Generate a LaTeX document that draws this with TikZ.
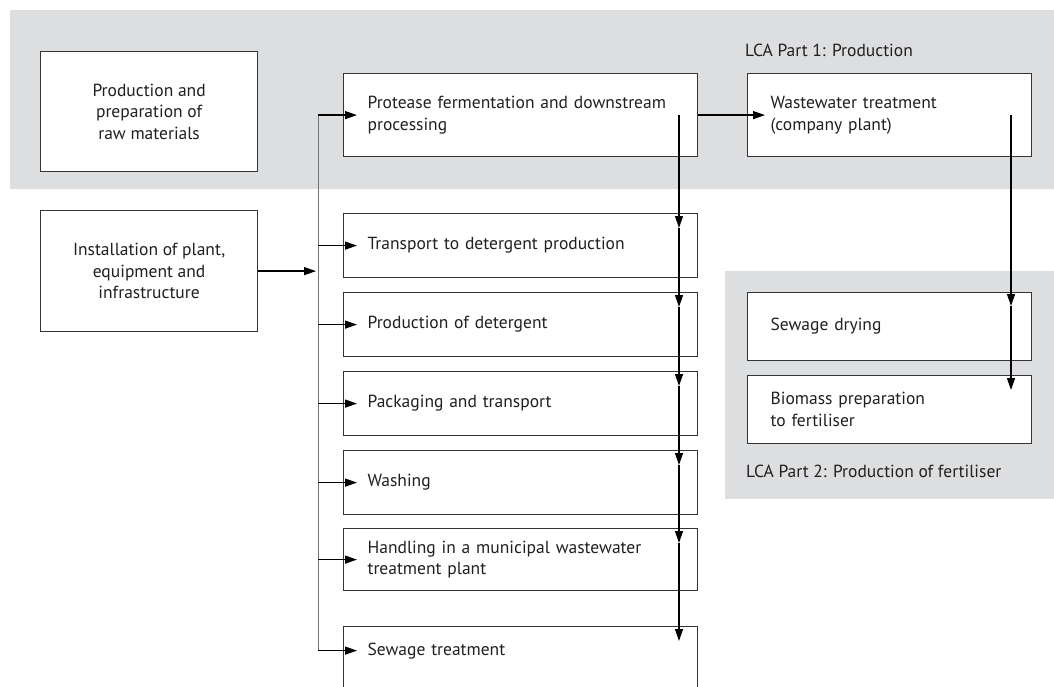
\documentclass[tikz,border=0pt]{standalone}
\usepackage{fontspec}
\setmainfont{PT Sans}
\usetikzlibrary{arrows.meta, positioning, calc}
\definecolor{lcagray}{RGB}{221, 222, 224}
\definecolor{boxline}{RGB}{52, 52, 54}
\definecolor{inktext}{RGB}{35, 31, 32}

\begin{document}
\begin{tikzpicture}[x=1pt, y=-1pt,
  every node/.style={text=inktext, font=\fontsize{17.5}{21.5}\selectfont},
  lcaband/.style={fill=lcagray, draw=none},
  sidebox/.style={draw=boxline, line width=1.2pt, fill=white, anchor=north west,
    minimum width=217pt, align=center, inner sep=0pt},
  stagebox/.style={draw=boxline, line width=1.2pt, fill=white, anchor=north west,
    minimum width=354pt, text width=306pt, inner xsep=24pt, inner ysep=0pt, align=left},
  fertbox/.style={draw=boxline, line width=1.2pt, fill=white, anchor=north west,
    minimum width=284pt, text width=238pt, inner xsep=23pt, inner ysep=0pt, align=left},
  partlabel/.style={anchor=west, inner sep=0pt},
  flow/.style={-{Triangle[length=12pt, width=8pt]}, line width=1.3pt, draw=black},
  busline/.style={line width=1pt, draw=black!55}]
  \useasboundingbox (0,0) rectangle (1054,686);
  \clip (0,0) rectangle (1054,686);

  \fill[lcaband] (10,10) rectangle (1054,189);
  \fill[lcaband] (725,271) rectangle (1054,499);

  \node[sidebox, minimum height=120pt] (raw) at (40,51) {Production and\\preparation of\\raw materials};
  \node[sidebox, minimum height=121pt] (install) at (40,210) {Installation of plant,\\equipment and\\infrastructure};

  \node[stagebox, minimum height=83pt] (protease) at (343,73) {Protease fermentation and downstream\\processing};
  \node[stagebox, minimum height=64pt] (transport) at (343,213) {Transport to detergent production};
  \node[stagebox, minimum height=64pt] (detergent) at (343,292) {Production of detergent};
  \node[stagebox, minimum height=64pt] (packaging) at (343,371) {Packaging and transport};
  \node[stagebox, minimum height=64pt] (washing) at (343,450) {Washing};
  \node[stagebox, minimum height=62pt] (handling) at (343,528) {Handling in a municipal wastewater\\treatment plant};
  \node[stagebox, text height=29pt, text depth=80pt] (sewage) at (343,626) {Sewage treatment};

  \node[fertbox, minimum height=83pt] (wastewater) at (747,73) {Wastewater treatment\\(company plant)};
  \node[fertbox, minimum height=68pt] (drying) at (747,292) {Sewage drying};
  \node[fertbox, minimum height=68pt] (biomass) at (747,375) {Biomass preparation\\to fertiliser};

  \node[partlabel] (part1) at (745,50) {LCA Part 1: Production};
  \node[partlabel] (part2) at (746,471) {LCA Part 2: Production of fertiliser};

  \coordinate (bus) at (318,0);
  \coordinate (drop) at (679,0);
  \coordinate (drop2) at (1011,0);
  \coordinate (sewage-w) at ([yshift=5pt]sewage.base west);

  \draw[busline] (protease.west -| bus) -- (sewage-w -| bus);
  \foreach \b in {protease,transport,detergent,packaging,washing,handling}
    \draw[flow] (\b.west -| bus) -- ([xshift=14pt]\b.west);
  \draw[flow] (sewage-w -| bus) -- ([xshift=14pt]sewage-w);
  \draw[flow] (install.east) -- ($(install.east -| bus)+(-2,0)$);

  \coordinate (protease-in) at (protease.west -| drop);
  \foreach \b in {transport,detergent,packaging,washing,handling,sewage}
    \coordinate (\b-in) at ($(\b.north -| drop)+(0,15)$);
  \foreach \a/\b in {protease/transport,transport/detergent,detergent/packaging,
    packaging/washing,washing/handling,handling/sewage}
    \draw[flow] (\a-in) -- (\b-in);

  \draw[flow] (protease.east) -- ([xshift=18pt]wastewater.west);
  \draw[flow] (wastewater.west -| drop2) -- ($(drying.north -| drop2)+(0,14)$);
  \draw[flow] ($(drying.north -| drop2)+(0,14)$) -- ($(biomass.north -| drop2)+(0,15)$);
\end{tikzpicture}
\end{document}
